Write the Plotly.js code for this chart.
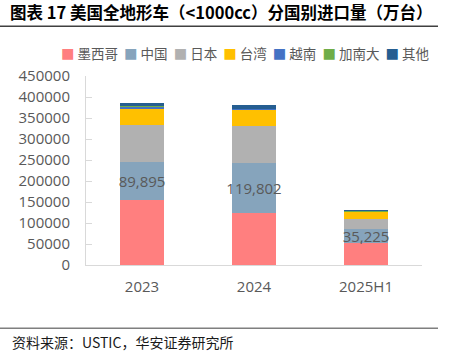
<!DOCTYPE html>
<html>
<head>
<meta charset="utf-8">
<script src="https://cdn.plot.ly/plotly-3.0.1.min.js"></script>
<style>html,body{margin:0;padding:0;background:#fff;}#chart{width:449px;height:357px;}</style>
</head>
<body>
<div id="chart"></div>
<script>
// ---- data ----
const categories = ['2023', '2024', '2025H1'];
const seriesNames = ['墨西哥', '中国', '日本', '台湾', '越南', '加南大', '其他'];
const seriesColors = ['#FF7F7F', '#86A4BC', '#B1B1B1', '#FFC000', '#4472C4', '#70AD47', '#255E91'];
const mexico  = [155000, 123500, 51500];
const china   = [89895, 119802, 35225];
const japan   = [88300, 87500, 23000];
const taiwan  = [38000, 38000, 16000];
const vietnam = [5700, 2000, 1500];
const canada  = [1000, 1000, 500];
const others  = [9000, 9500, 2500];
const seriesValues = [mexico, china, japan, taiwan, vietnam, canada, others];
const labelSeries = 1; // China carries data labels
const yTicks = [0, 50000, 100000, 150000, 200000, 250000, 300000, 350000, 400000, 450000];

const titleText = '图表 17 美国全地形车（<1000cc）分国别进口量（万台）';
const sourceText = '资料来源：USTIC，华安证券研究所';

const numFont = 'Open Sans, Noto Sans CJK SC, sans-serif';
const cjkFont = 'Noto Sans CJK SC, sans-serif';

const fmt = v => v.toLocaleString('en-US');

const traces = seriesNames.map((name, i) => {
  const t = {
    type: 'bar',
    name: name,
    x: categories,
    y: seriesValues[i],
    marker: {color: seriesColors[i], line: {width: 0}},
    hoverinfo: 'skip',
    showlegend: false
  };
  if (i === labelSeries) {
    t.text = seriesValues[i].map(fmt);
    t.textposition = 'inside';
    t.insidetextanchor = 'middle';
    t.textangle = 0;
    t.constraintext = 'none';
    t.textfont = {family: numFont, size: 15, color: '#595959'};
  } else {
    t.textposition = 'none';
  }
  return t;
});

// legend built from names & colours (as coloured text)
const NB = '\u00a0';
const legendText = seriesNames.map((n, i) =>
  '<span style="color:' + seriesColors[i] + '">■</span>' + NB + n
).join(NB + NB);

// geometry helpers (plot area: x 86..422, y 75.5..265)
const L = 86, R = 27, T = 75.5, B = 92;
const plotW = 449 - L - R, plotH = 357 - T - B;
const px = X => (X - L) / plotW;
const py = Y => (357 - B - Y) / plotH;

const layout = {
  width: 449, height: 357,
  margin: {l: L, r: R, t: T, b: B, pad: 0},
  paper_bgcolor: '#ffffff', plot_bgcolor: '#ffffff',
  barmode: 'stack',
  bargap: 0.6,
  showlegend: false,
  font: {family: cjkFont, color: '#595959'},
  title: {
    text: '<b>' + titleText.replace('<', '&lt;') + '</b>',
    font: {family: cjkFont, size: 16.5, color: '#000000'},
    x: 10 / 449, xanchor: 'left', xref: 'container',
    y: 1 - 13.5 / 357, yanchor: 'middle', yref: 'container'
  },
  xaxis: {
    type: 'category',
    showline: true, linecolor: '#D9D9D9', linewidth: 1,
    ticks: '', showgrid: false, zeroline: false,
    tickfont: {family: numFont, size: 15, color: '#595959'},
    ticklabelstandoff: 8
  },
  yaxis: {
    range: [0, 450000],
    tickvals: yTicks,
    ticktext: yTicks.map(String),
    showline: true, linecolor: '#D9D9D9', linewidth: 1,
    ticks: 'inside', ticklen: 6, tickcolor: '#D9D9D9', tickwidth: 1,
    showgrid: false, zeroline: false,
    tickfont: {family: numFont, size: 15, color: '#595959'},
    ticklabelstandoff: 12
  },
  shapes: [
    {type: 'line', xref: 'paper', yref: 'paper', x0: px(0), x1: px(438), y0: py(25.5), y1: py(25.5),
     line: {color: '#404040', width: 1.5}},
    {type: 'line', xref: 'paper', yref: 'paper', x0: px(0), x1: px(438), y0: py(328.5), y1: py(328.5),
     line: {color: '#7F7F7F', width: 1.5}}
  ],
  annotations: [
    {text: legendText, xref: 'paper', yref: 'paper', x: px(431), y: py(52),
     xanchor: 'right', yanchor: 'middle', showarrow: false,
     font: {family: cjkFont, size: 13.5, color: '#595959'}},
    {text: sourceText, xref: 'paper', yref: 'paper', x: px(10), y: py(342),
     xanchor: 'left', yanchor: 'middle', showarrow: false,
     font: {family: cjkFont, size: 14, color: '#1A1A1A'}}
  ]
};

Plotly.newPlot('chart', traces, layout, {displayModeBar: false, staticPlot: true});
</script>
</body>
</html>
